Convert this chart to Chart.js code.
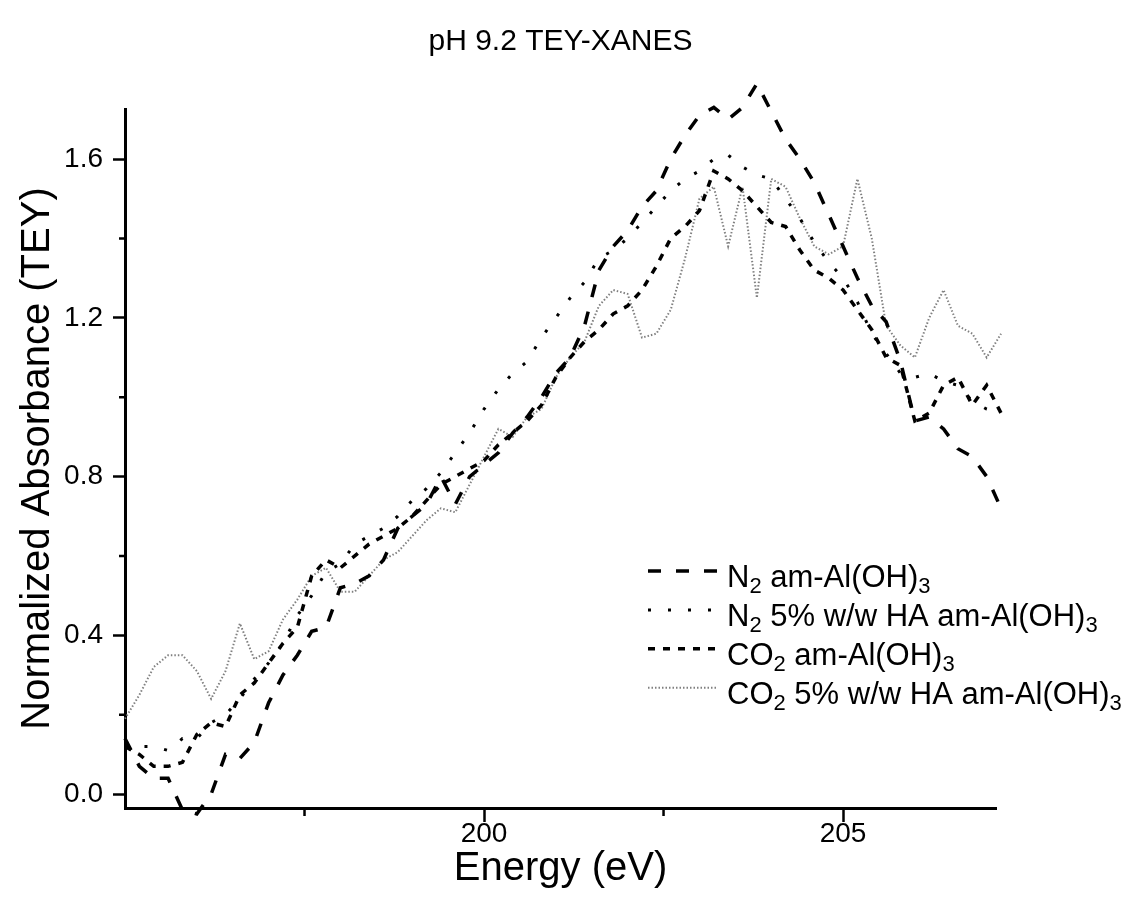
<!DOCTYPE html>
<html lang="en">
<head>
  <meta charset="UTF-8">
  <title>pH 9.2 TEY-XANES</title>
  <script src="https://cdn.jsdelivr.net/npm/chart.js"></script>
  <style>
    html, body { margin: 0; padding: 0; background: #ffffff; }
    #wrap { width: 1136px; height: 915px; }
  </style>
</head>
<body>
  <div id="wrap">
    <canvas id="xanesChart" width="1136" height="915"></canvas>
  </div>

  <script>
    // data (energy in eV, normalized TEY absorbance)
    const energy = [
      195.0, 195.2, 195.4, 195.6, 195.8, 196.0, 196.2, 196.4, 196.6, 196.8,
      197.0, 197.2, 197.4, 197.6, 197.8, 198.0, 198.2, 198.4, 198.6, 198.8,
      199.0, 199.2, 199.4, 199.6, 199.8, 200.0, 200.2, 200.4, 200.6, 200.8,
      201.0, 201.2, 201.4, 201.6, 201.8, 202.0, 202.2, 202.4, 202.6, 202.8,
      203.0, 203.2, 203.4, 203.6, 203.8, 204.0, 204.2, 204.4, 204.6, 204.8,
      205.0, 205.2, 205.4, 205.6, 205.8, 206.0, 206.2, 206.4, 206.6, 206.8,
      207.0, 207.2
    ];

    const n2Am = [
      0.14, 0.07, 0.04, 0.04, -0.04, -0.05, 0.00, 0.10, 0.09, 0.13,
      0.23, 0.30, 0.35, 0.41, 0.42, 0.52, 0.53, 0.55, 0.59, 0.67,
      0.70, 0.73, 0.80, 0.73, 0.80, 0.83, 0.86, 0.91, 0.95, 1.00,
      1.06, 1.10, 1.18, 1.32, 1.38, 1.42, 1.48, 1.52, 1.60, 1.66,
      1.71, 1.73, 1.70, 1.73, 1.79, 1.72, 1.65, 1.60, 1.54, 1.46,
      1.38, 1.30, 1.23, 1.19, 1.09, 0.94, 0.95, 0.92, 0.87, 0.85,
      0.80, 0.72
    ];

    const n2Ha = [
      0.13, 0.12, 0.12, 0.11, 0.14, 0.14, 0.18, 0.20, 0.24, 0.29,
      0.33, 0.38, 0.45, 0.50, 0.56, 0.58, 0.63, 0.65, 0.67, 0.70,
      0.74, 0.77, 0.81, 0.86, 0.91, 0.97, 1.02, 1.06, 1.09, 1.15,
      1.20, 1.25, 1.29, 1.35, 1.37, 1.40, 1.44, 1.48, 1.52, 1.55,
      1.57, 1.60, 1.61, 1.58, 1.56, 1.55, 1.50, 1.45, 1.39, 1.34,
      1.30, 1.24, 1.16, 1.11, 1.06, 1.05, 1.06, 1.04, 1.03, 0.99,
      0.97, 0.96
    ];

    const co2Am = [
      0.12, 0.10, 0.07, 0.07, 0.08, 0.15, 0.18, 0.17, 0.25, 0.28,
      0.33, 0.38, 0.42, 0.55, 0.59, 0.57, 0.60, 0.63, 0.65, 0.67,
      0.70, 0.74, 0.78, 0.80, 0.82, 0.84, 0.88, 0.91, 0.94, 0.98,
      1.05, 1.10, 1.14, 1.17, 1.21, 1.23, 1.27, 1.33, 1.40, 1.43,
      1.47, 1.57, 1.55, 1.52, 1.48, 1.44, 1.43, 1.37, 1.32, 1.30,
      1.27, 1.22, 1.17, 1.10, 1.08, 0.94, 0.96, 1.03, 1.05, 0.98,
      1.03, 0.96
    ];

    const co2Ha = [
      0.19, 0.25, 0.32, 0.35, 0.35, 0.31, 0.24, 0.31, 0.43, 0.34,
      0.36, 0.44, 0.49, 0.55, 0.57, 0.51, 0.51, 0.55, 0.59, 0.61,
      0.65, 0.69, 0.72, 0.71, 0.78, 0.85, 0.92, 0.90, 0.95, 0.97,
      1.05, 1.10, 1.14, 1.23, 1.27, 1.26, 1.15, 1.16, 1.22, 1.35,
      1.50, 1.53, 1.38, 1.53, 1.25, 1.55, 1.53, 1.45, 1.38, 1.36,
      1.38, 1.55, 1.40, 1.18, 1.13, 1.10, 1.20, 1.27, 1.18, 1.16,
      1.10, 1.16
    ];

    const seriesLabels = [
      'N₂ am-Al(OH)₃',
      'N₂ 5% w/w HA am-Al(OH)₃',
      'CO₂ am-Al(OH)₃',
      'CO₂ 5% w/w HA am-Al(OH)₃'
    ];

    const chartTitle = 'pH 9.2 TEY-XANES';
    const xTitle = 'Energy (eV)';
    const yTitle = 'Normalized Absorbance (TEY)';

    const xMajorTicks = [200, 205];
    const xMinorTicks = [197.5, 202.5];
    const yMajorTicks = [0.0, 0.4, 0.8, 1.2, 1.6];
    const yMinorTicks = [0.2, 0.6, 1.0, 1.4];

    const FONT = '"Liberation Sans", Arial, Helvetica, sans-serif';

    function toPoints(values) {
      return values.map((v, i) => ({ x: energy[i], y: v }));
    }

    // short minor ticks, drawn through the scales
    const minorTicks = {
      id: 'minorTicks',
      afterDraw(chart) {
        const { ctx, scales: { x, y } } = chart;
        ctx.save();
        ctx.strokeStyle = '#000';
        ctx.lineWidth = 2.5;
        ctx.beginPath();
        xMinorTicks.forEach(v => {
          const px = x.getPixelForValue(v);
          ctx.moveTo(px, y.bottom);
          ctx.lineTo(px, y.bottom + 8);
        });
        yMinorTicks.forEach(v => {
          const py = y.getPixelForValue(v);
          ctx.moveTo(x.left, py);
          ctx.lineTo(x.left - 6, py);
        });
        ctx.stroke();
        ctx.restore();
      }
    };

    // legend inside the plot, with real subscripts
    const SUBS = '₀₁₂₃₄₅₆₇₈₉';
    function drawRichText(ctx, text, x, y, size) {
      const runs = [];
      for (const ch of text) {
        const k = SUBS.indexOf(ch);
        const sub = k >= 0;
        const c = sub ? String(k) : ch;
        if (runs.length && runs[runs.length - 1].sub === sub) runs[runs.length - 1].t += c;
        else runs.push({ sub: sub, t: c });
      }
      runs.forEach(r => {
        ctx.font = (r.sub ? Math.round(size * 0.7) : size) + 'px ' + FONT;
        ctx.fillText(r.t, x, r.sub ? y + 6 : y);
        x += ctx.measureText(r.t).width;
      });
    }

    const insideLegend = {
      id: 'insideLegend',
      afterDraw(chart) {
        const ctx = chart.ctx;
        const left = 648, lineLen = 70, textX = 727, firstBase = 587, rowGap = 38.9;
        ctx.save();
        chart.data.datasets.forEach((ds, i) => {
          const base = firstBase + i * rowGap;
          ctx.strokeStyle = ds.borderColor;
          ctx.lineWidth = ds.borderWidth;
          ctx.lineCap = 'butt';
          ctx.setLineDash(ds.borderDash || []);
          ctx.beginPath();
          ctx.moveTo(left, base - 16);
          ctx.lineTo(left + lineLen, base - 16);
          ctx.stroke();
          ctx.setLineDash([]);
          ctx.fillStyle = '#000';
          ctx.textBaseline = 'alphabetic';
          ctx.textAlign = 'left';
          drawRichText(ctx, ds.label, textX, base, 31);
        });
        ctx.restore();
      }
    };

    const ctx = document.getElementById('xanesChart').getContext('2d');
    new Chart(ctx, {
      type: 'line',
      data: {
        datasets: [
          {
            label: seriesLabels[0],
            data: toPoints(n2Am),
            borderColor: '#000000',
            borderWidth: 3.5,
            borderDash: [13, 15]
          },
          {
            label: seriesLabels[1],
            data: toPoints(n2Ha),
            borderColor: '#000000',
            borderWidth: 3,
            borderDash: [3, 17]
          },
          {
            label: seriesLabels[2],
            data: toPoints(co2Am),
            borderColor: '#000000',
            borderWidth: 3.5,
            borderDash: [7, 8]
          },
          {
            label: seriesLabels[3],
            data: toPoints(co2Ha),
            borderColor: '#808080',
            borderWidth: 2,
            borderDash: [1.5, 2]
          }
        ]
      },
      options: {
        responsive: false,
        animation: false,
        events: [],
        layout: { padding: { left: 0, right: 140, top: 0, bottom: 0 } },
        elements: {
          point: { radius: 0 },
          line: { tension: 0, fill: false, borderCapStyle: 'butt', borderJoinStyle: 'miter' }
        },
        datasets: { line: { clip: false } },
        plugins: {
          legend: { display: false },
          tooltip: { enabled: false },
          title: {
            display: true,
            text: chartTitle,
            fullSize: false,
            color: '#000',
            font: { family: FONT, size: 30, weight: 'normal', lineHeight: 1.2 },
            padding: { top: 24, bottom: 49 }
          }
        },
        scales: {
          x: {
            type: 'linear',
            min: 195.0,
            max: 207.13,
            afterBuildTicks: s => { s.ticks = xMajorTicks.map(v => ({ value: v })); },
            afterFit: s => { s.height = 107; },
            grid: { drawOnChartArea: false, drawTicks: true, tickLength: 14, tickWidth: 2.5, tickColor: '#000' },
            border: { display: true, color: '#000', width: 3 },
            ticks: {
              color: '#000',
              padding: 0,
              maxRotation: 0,
              font: { family: FONT, size: 28, lineHeight: 0.9 },
              callback: v => String(v)
            },
            title: {
              display: true,
              text: xTitle,
              color: '#000',
              font: { family: FONT, size: 40, lineHeight: 1.2 },
              padding: { top: 22, bottom: 22 }
            }
          },
          y: {
            type: 'linear',
            min: -0.035,
            max: 1.726,
            afterBuildTicks: s => { s.ticks = yMajorTicks.map(v => ({ value: v })); },
            afterFit: s => { s.width = 125; },
            grid: { drawOnChartArea: false, drawTicks: true, tickLength: 12, tickWidth: 2.5, tickColor: '#000' },
            border: { display: true, color: '#000', width: 3 },
            ticks: {
              color: '#000',
              padding: 10,
              font: { family: FONT, size: 28 },
              callback: v => Number(v).toFixed(1)
            },
            title: {
              display: true,
              text: yTitle,
              color: '#000',
              font: { family: FONT, size: 40, lineHeight: 1.2 },
              padding: { top: 14, bottom: 14 }
            }
          }
        }
      },
      plugins: [minorTicks, insideLegend]
    });
  </script>
</body>
</html>
